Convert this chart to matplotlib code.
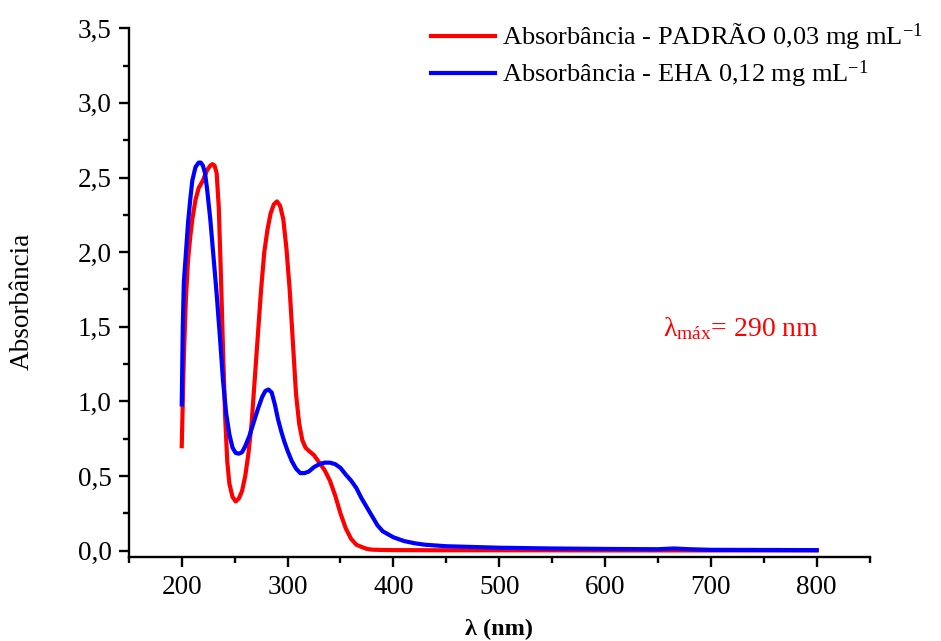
import numpy as np
from matplotlib import pyplot as plt
from matplotlib.ticker import MultipleLocator, FuncFormatter

plt.rcParams['font.family'] = ['Liberation Serif', 'DejaVu Serif']
plt.rcParams['mathtext.fontset'] = 'custom'
plt.rcParams['mathtext.rm'] = 'Liberation Serif'
plt.rcParams['mathtext.it'] = 'Liberation Serif:italic'

# wavelength (nm) / absorbance
padraoX = [200, 202, 204, 206, 208, 210, 213, 216, 220, 224, 227, 229, 231, 233,
           235, 237, 239, 241, 243, 245, 248, 251, 254, 257, 260, 263, 266, 269,
           272, 275, 278, 281, 284, 287, 290, 293, 296, 299, 302, 305, 308, 311,
           314, 317, 320, 325, 330, 335, 340, 345, 350, 355, 360, 365, 370, 375,
           380, 390, 400, 450, 500, 600, 700, 800]
padraoY = [0.70, 1.30, 1.70, 1.95, 2.10, 2.22, 2.35, 2.43, 2.48, 2.55, 2.58, 2.59,
           2.58, 2.53, 2.30, 1.85, 1.35, 0.90, 0.60, 0.45, 0.36, 0.33, 0.35, 0.40,
           0.50, 0.65, 0.85, 1.15, 1.45, 1.75, 2.00, 2.15, 2.26, 2.32, 2.34, 2.31,
           2.22, 2.02, 1.75, 1.40, 1.05, 0.85, 0.74, 0.69, 0.67, 0.64, 0.59, 0.54,
           0.47, 0.37, 0.25, 0.15, 0.08, 0.04, 0.025, 0.012, 0.007, 0.005, 0.004,
           0.003, 0.003, 0.002, 0.002, 0.002]

ehaX = [200, 201, 202, 204, 206, 208, 210, 213, 216, 218, 220, 222, 224, 227, 230,
        233, 236, 239, 242, 245, 248, 251, 254, 257, 260, 264, 268, 272, 276, 279,
        282, 285, 288, 291, 294, 297, 300, 304, 308, 312, 316, 320, 325, 330, 335,
        340, 345, 350, 355, 360, 365, 370, 375, 380, 385, 390, 395, 400, 410, 420,
        430, 450, 475, 500, 550, 600, 650, 665, 680, 700, 750, 800]
ehaY = [0.98, 1.50, 1.80, 2.00, 2.20, 2.35, 2.48, 2.57, 2.60, 2.60, 2.58, 2.53,
        2.42, 2.22, 1.97, 1.72, 1.44, 1.14, 0.92, 0.78, 0.69, 0.655, 0.65, 0.66,
        0.70, 0.77, 0.86, 0.95, 1.03, 1.07, 1.08, 1.06, 0.98, 0.88, 0.80, 0.73,
        0.67, 0.60, 0.55, 0.52, 0.52, 0.53, 0.56, 0.58, 0.59, 0.59, 0.58, 0.555,
        0.51, 0.47, 0.42, 0.35, 0.29, 0.23, 0.17, 0.13, 0.11, 0.09, 0.065, 0.05,
        0.04, 0.03, 0.025, 0.02, 0.015, 0.012, 0.01, 0.015, 0.01, 0.006, 0.005,
        0.004]

labelPadrao = 'Absorbância - PADRÃO 0,03 mg mL$^{-1}$'
labelEha = 'Absorbância - EHA 0,12 mg mL$^{-1}$'

fig = plt.figure(figsize=(9.41, 6.41), dpi=100)
ax = fig.add_axes([0.1369, 0.1306, 0.7872, 0.8253])

ax.plot(padraoX, padraoY, color='#ff0000', linewidth=3, label=labelPadrao)
ax.plot(ehaX, ehaY, color='#0000ff', linewidth=3, label=labelEha)

ax.set_xlim(150, 850)
ax.set_ylim(-0.044, 3.5)

ax.xaxis.set_major_locator(MultipleLocator(100))
ax.xaxis.set_minor_locator(MultipleLocator(50))
ax.yaxis.set_major_locator(MultipleLocator(0.5))
ax.yaxis.set_minor_locator(MultipleLocator(0.25))
ax.set_xticks(np.arange(200, 801, 100))
ax.yaxis.set_major_formatter(FuncFormatter(lambda v, p: ('%.1f' % v).replace('.', ',')))

for side in ['top', 'right']:
    ax.spines[side].set_visible(False)
for side in ['left', 'bottom']:
    ax.spines[side].set_linewidth(1.7)

ax.tick_params(which='major', direction='out', length=7.5, width=1.7, labelsize=19.5, pad=5)
ax.tick_params(which='minor', direction='out', length=4, width=1.7)
ax.tick_params(axis='y', which='major', pad=5)

ax.set_xlabel('λ (nm)', fontsize=17.5, fontweight='bold')
ax.xaxis.set_label_coords(0.5, -0.137)
ax.xaxis.label.set_va('center')
ax.set_ylabel('Absorbância', fontsize=19.5)
ax.yaxis.set_label_coords(-0.144, 0.483)
ax.yaxis.label.set_va('center')

ax.text(655, 1.44, 'λ$_{\\mathrm{máx}}$= 290 nm', color='#ff0000', fontsize=20,
        va='baseline', ha='left')

ax.legend(loc='upper left', bbox_to_anchor=(0.447, 0.983), bbox_transform=fig.transFigure,
          frameon=False, fontsize=19, handlelength=2.4, handletextpad=0.3,
          labelspacing=0.25, borderaxespad=0)

fig.savefig('out.png', dpi=100)
